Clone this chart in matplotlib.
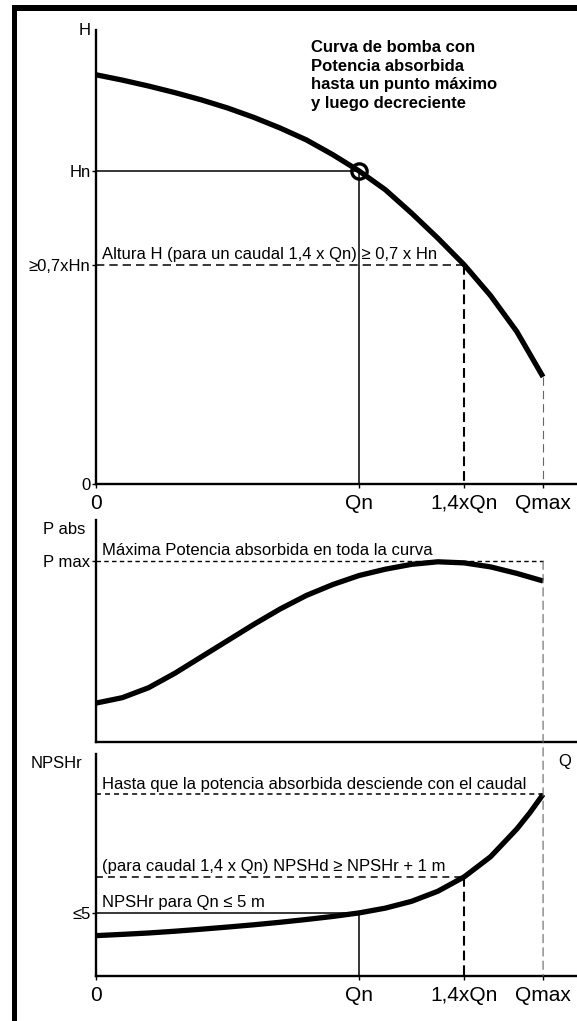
import matplotlib
matplotlib.use('Agg')
import matplotlib.pyplot as plt
from matplotlib.patches import ConnectionPatch, Rectangle

plt.rcParams['font.family'] = ['Liberation Sans', 'DejaVu Sans']
plt.rcParams['lines.scale_dashes'] = False

# x positions (in units of Qn)
Q_N = 1.0
Q_14 = 1.4
Q_MAX = 1.70
Q_END = 1.829
Q_TICKS = [0, Q_N, Q_14, Q_MAX]
Q_LABELS = ['0', 'Qn', '1,4xQn', 'Qmax']

# pump curve H(Q), in units of Hn
H_N = 1.0
H_07 = 0.7
H_TOP = 1.45
Q_H = [0, 0.1, 0.2, 0.3, 0.4, 0.5, 0.6, 0.7, 0.8, 0.9,
       1.0, 1.1, 1.2, 1.3, 1.4, 1.5, 1.6, 1.7]
H_VALS = [1.307, 1.290, 1.271, 1.250, 1.227, 1.201, 1.171, 1.137, 1.099, 1.052,
          1.0, 0.94, 0.865, 0.785, 0.70, 0.602, 0.487, 0.342]

# absorbed power P(Q), in units of Pmax
P_MAX = 1.0
P_TOP = 1.227
Q_P = [0, 0.1, 0.2, 0.3, 0.4, 0.5, 0.6, 0.7, 0.8, 0.9,
       1.0, 1.1, 1.2, 1.3, 1.4, 1.5, 1.6, 1.7]
P_VALS = [0.215, 0.245, 0.30, 0.38, 0.47, 0.56, 0.65, 0.735, 0.81, 0.87,
          0.92, 0.955, 0.982, 0.996, 0.99, 0.968, 0.932, 0.89]

# NPSHr(Q), metres
N_QN = 5.0
N_14 = 7.86
N_QMAX = 14.4
N_TOP = 17.6
Q_NP = [0, 0.1, 0.2, 0.3, 0.4, 0.5, 0.6, 0.7, 0.8, 0.9,
        1.0, 1.1, 1.2, 1.3, 1.4, 1.5, 1.6, 1.65, 1.7]
N_VALS = [3.2, 3.3, 3.41, 3.55, 3.71, 3.88, 4.06, 4.26, 4.48, 4.72,
          5.0, 5.38, 5.92, 6.72, 7.86, 9.45, 11.65, 12.95, 14.4]

W, H = 577, 1021
fig = plt.figure(figsize=(W / 100, H / 100), dpi=100)


def px_axes(left, top, right, bottom):
    return fig.add_axes([left / W, 1 - bottom / H, (right - left) / W, (bottom - top) / H])


ax1 = px_axes(96, 30, 577, 484)
ax2 = px_axes(96, 520, 577, 742)
ax3 = px_axes(96, 754, 577, 976)

CURVE_LW = 3.8
AXIS_LW = 1.7
FS_TICK_X = 15
FS_TICK_Y = 12
FS_NOTE = 12

for ax, ytop in [(ax1, H_TOP), (ax2, P_TOP), (ax3, N_TOP)]:
    ax.set_xlim(0, Q_END)
    ax.set_ylim(0, ytop)
    ax.spines['top'].set_visible(False)
    ax.spines['right'].set_visible(False)
    ax.spines['left'].set_linewidth(AXIS_LW)
    ax.spines['bottom'].set_linewidth(AXIS_LW)
    ax.patch.set_alpha(0)
    ax.tick_params(axis='y', length=3, width=1, pad=1, labelsize=FS_TICK_Y)
    ax.tick_params(axis='x', length=3, width=1, pad=4, labelsize=FS_TICK_X)


def curve(ax, xs, ys):
    ax.plot(xs, ys, color='black', lw=CURVE_LW, solid_capstyle='butt',
            solid_joinstyle='round', clip_on=False)


# ---- panel 1: H(Q)
curve(ax1, Q_H, H_VALS)
ax1.plot([0, Q_N, Q_N], [H_N, H_N, 0], color='black', lw=1.1)
ax1.plot([0, Q_14], [H_07, H_07], color='black', lw=1.1, dashes=(6, 3.6))
ax1.plot([Q_14, Q_14], [H_07, 0], color='black', lw=1.5, dashes=(7, 3.6))
ax1.plot([Q_MAX, Q_MAX], [H_VALS[-1], 0], color='#666666', lw=0.8, dashes=(6, 3.6))
ax1.plot([Q_N], [H_N], marker='o', ms=11, mfc='none', mec='black', mew=2.4)
ax1.set_yticks([0, H_07, H_N], ['0', '≥0,7xHn', 'Hn'])
ax1.set_xticks(Q_TICKS, Q_LABELS)
ax1.annotate('H', xy=(0, 1), xycoords='axes fraction', xytext=(-4, 0),
             textcoords='offset points', ha='right', va='center', fontsize=FS_TICK_Y)
ax1.annotate('Altura H (para un caudal 1,4 x Qn) ≥ 0,7 x Hn', xy=(0, H_07),
             xytext=(4, 2), textcoords='offset points', ha='left', va='bottom',
             fontsize=FS_NOTE)
ax1.text(0.447, 0.978, 'Curva de bomba con\nPotencia absorbida\nhasta un punto máximo\ny luego decreciente',
         transform=ax1.transAxes, ha='left', va='top', fontsize=12, fontweight='bold',
         linespacing=1.3)

# ---- panel 2: P(Q)
curve(ax2, Q_P, P_VALS)
ax2.plot([0, Q_MAX], [P_MAX, P_MAX], color='black', lw=1.0, dashes=(3.2, 2.4))
ax2.set_yticks([P_MAX], ['P max'])
ax2.set_xticks([])
ax2.annotate('P abs', xy=(0, 1), xycoords='axes fraction', xytext=(-8, -7),
             textcoords='offset points', ha='right', va='center', fontsize=FS_TICK_Y)
ax2.annotate('Máxima Potencia absorbida en toda la curva', xy=(0, P_MAX),
             xytext=(4, 2), textcoords='offset points', ha='left', va='bottom',
             fontsize=FS_NOTE)

# ---- panel 3: NPSHr(Q)
curve(ax3, Q_NP, N_VALS)
ax3.plot([0, Q_MAX], [N_QMAX, N_QMAX], color='black', lw=1.1, dashes=(3.6, 2.9))
ax3.plot([0, Q_14], [N_14, N_14], color='black', lw=1.1, dashes=(5, 3.6))
ax3.plot([Q_14, Q_14], [N_14, 0], color='black', lw=1.5, dashes=(7, 3.6))
ax3.plot([0, Q_N, Q_N], [N_QN, N_QN, 0], color='black', lw=1.1)
ax3.set_yticks([N_QN], ['≤5'])
ax3.set_xticks(Q_TICKS, Q_LABELS)
ax3.annotate('NPSHr', xy=(0, 1), xycoords='axes fraction', xytext=(-10, -7),
             textcoords='offset points', ha='right', va='center', fontsize=FS_TICK_Y)
ax3.text(0.975, 0.964, 'Q', transform=ax3.transAxes, ha='center', va='center',
         fontsize=FS_TICK_Y)
ax3.annotate('Hasta que la potencia absorbida desciende con el caudal', xy=(0, N_QMAX),
             xytext=(4, 2), textcoords='offset points', ha='left', va='bottom',
             fontsize=FS_NOTE)
ax3.annotate('(para caudal 1,4 x Qn) NPSHd ≥ NPSHr + 1 m', xy=(0, N_14),
             xytext=(4, 2), textcoords='offset points', ha='left', va='bottom',
             fontsize=FS_NOTE)
ax3.annotate('NPSHr para Qn ≤ 5 m', xy=(0, N_QN),
             xytext=(4, 2), textcoords='offset points', ha='left', va='bottom',
             fontsize=FS_NOTE)

# Qmax guide running from P max down to the NPSHr axis
fig.add_artist(ConnectionPatch(xyA=(Q_MAX, P_MAX), coordsA=ax2.transData,
                               xyB=(Q_MAX, 0), coordsB=ax3.transData,
                               color='#666666', lw=0.8, linestyle=(0, (6, 3.6))))

# frame on the top and left
fig.add_artist(Rectangle((12 / W, 0), 5 / W, 1 - 5 / H, transform=fig.transFigure,
                         color='black', lw=0))
fig.add_artist(Rectangle((12 / W, 1 - 11 / H), 1, 6 / H, transform=fig.transFigure,
                         color='black', lw=0))

fig.savefig('out.png', dpi=100)
